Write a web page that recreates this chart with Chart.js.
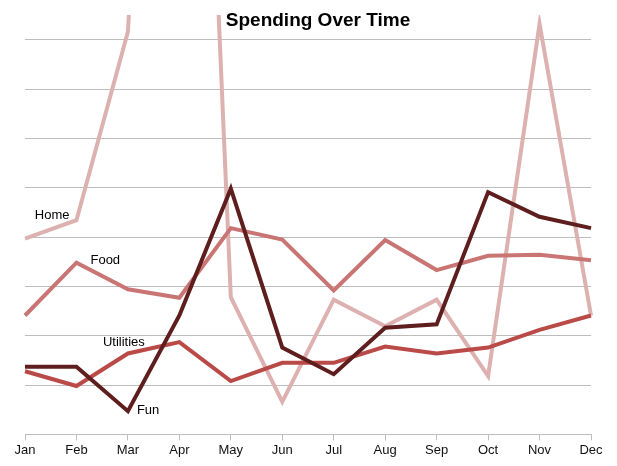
<!DOCTYPE html>
<html>
<head>
<meta charset="utf-8">
<title>Spending Over Time</title>
<script src="https://cdn.jsdelivr.net/npm/chart.js@4/dist/chart.umd.min.js"></script>
<style>
    body { margin: 0; background: #fff; }
    #wrap { width: 617px; height: 466px; }
</style>
</head>
<body>
<div id="wrap"><canvas id="spendChart" width="617" height="466"></canvas></div>
<script>
// data (units = one grid step)
const months = ['Jan', 'Feb', 'Mar', 'Apr', 'May', 'Jun', 'Jul', 'Aug', 'Sep', 'Oct', 'Nov', 'Dec'];
const home = [3.97, 4.34, 8.16, 27.0, 2.78, 0.66, 2.73, 2.19, 2.73, 1.18, 8.32, 2.41];
const food = [2.41, 3.48, 2.94, 2.77, 4.18, 3.95, 2.92, 3.94, 3.33, 3.62, 3.64, 3.53];
const utilities = [1.28, 0.98, 1.64, 1.87, 1.08, 1.45, 1.45, 1.78, 1.64, 1.76, 2.12, 2.41];
const fun = [1.37, 1.37, 0.47, 2.41, 4.98, 1.76, 1.22, 2.16, 2.23, 4.91, 4.41, 4.18];

const gridGrey = '#bdbdbd';

// title drawn over the top of the plot, like the original
const titlePlugin = {
    id: 'overTitle',
    afterDraw(chart) {
        const c = chart.ctx;
        c.save();
        c.font = 'bold 19px "Liberation Sans", Arial, sans-serif';
        c.fillStyle = '#000';
        c.textAlign = 'center';
        c.textBaseline = 'middle';
        c.fillText('Spending Over Time', 318, 21);
        c.restore();
    }
};

// series names written next to one of their points
const seriesLabels = {
    id: 'seriesLabels',
    afterDatasetsDraw(chart, args, opts) {
        const c = chart.ctx;
        c.save();
        c.font = '13px "Liberation Sans", Arial, sans-serif';
        c.fillStyle = '#000';
        c.textBaseline = 'middle';
        opts.items.forEach(it => {
            const pt = chart.getDatasetMeta(it.ds).data[it.idx];
            c.textAlign = it.align;
            c.fillText(chart.data.datasets[it.ds].label, pt.x + it.dx, pt.y + it.dy);
        });
        c.restore();
    }
};

const ctx = document.getElementById('spendChart').getContext('2d');
new Chart(ctx, {
    type: 'line',
    data: {
        labels: months,
        datasets: [
            { label: 'Home', data: home, borderColor: '#dcb1af', order: 3 },
            { label: 'Food', data: food, borderColor: '#c97574', order: 2 },
            { label: 'Utilities', data: utilities, borderColor: '#ba4a47', order: 1 },
            { label: 'Fun', data: fun, borderColor: '#5e1e1e', order: 0 }
        ].map(d => Object.assign(d, { borderWidth: 4, pointRadius: 0, tension: 0, fill: false }))
    },
    options: {
        responsive: false,
        animation: false,
        devicePixelRatio: 1,
        layout: { padding: { left: 25, right: 26, top: 15, bottom: 6 } },
        plugins: {
            legend: { display: false },
            tooltip: { enabled: false },
            title: { display: false },
            seriesLabels: {
                items: [
                    { ds: 0, idx: 1, dx: -7, dy: -5, align: 'right' },
                    { ds: 1, idx: 1, dx: 14, dy: -2, align: 'left' },
                    { ds: 2, idx: 2, dx: -25, dy: -11, align: 'left' },
                    { ds: 3, idx: 2, dx: 9, dy: -1, align: 'left' }
                ]
            }
        },
        scales: {
            x: {
                offset: false,
                grid: { drawOnChartArea: false, color: gridGrey, tickLength: 6 },
                border: { color: gridGrey },
                ticks: {
                    color: '#111',
                    font: { family: '"Liberation Sans", Arial, sans-serif', size: 13 },
                    padding: 2,
                    maxRotation: 0,
                    autoSkip: false
                }
            },
            y: {
                min: 0,
                max: 8.5,
                ticks: { display: false, stepSize: 1 },
                grid: {
                    drawTicks: false,
                    color: c => (c.tick && Number.isInteger(c.tick.value) ? gridGrey : 'rgba(0,0,0,0)')
                },
                border: { display: false }
            }
        }
    },
    plugins: [seriesLabels, titlePlugin]
});
</script>
</body>
</html>
